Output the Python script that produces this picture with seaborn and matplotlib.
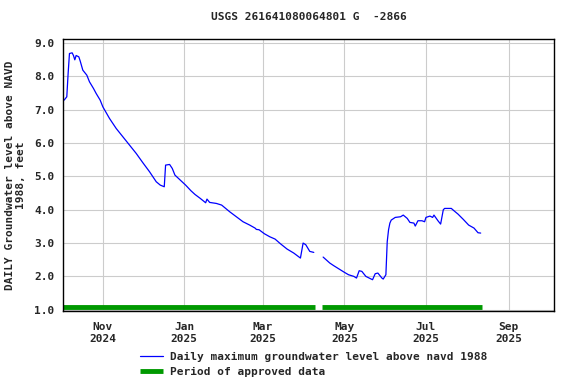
import pandas as pd
import matplotlib
matplotlib.use("Agg")
import matplotlib.pyplot as plt
import matplotlib.dates as mdates
from matplotlib.lines import Line2D
import seaborn as sns

# Daily maximum groundwater level (ft above NAVD 1988)
dates_a = ["2024-10-03", "2024-10-05", "2024-10-06", "2024-10-07", "2024-10-09",
           "2024-10-10", "2024-10-11", "2024-10-12", "2024-10-14", "2024-10-15",
           "2024-10-17", "2024-10-20", "2024-10-22", "2024-10-25", "2024-10-27",
           "2024-10-30", "2024-11-01", "2024-11-06", "2024-11-11", "2024-11-16",
           "2024-11-21", "2024-11-26", "2024-12-01", "2024-12-06", "2024-12-11",
           "2024-12-14", "2024-12-17", "2024-12-18", "2024-12-21", "2024-12-23",
           "2024-12-25", "2024-12-29", "2025-01-02", "2025-01-06", "2025-01-09",
           "2025-01-13", "2025-01-17", "2025-01-18", "2025-01-20", "2025-01-25",
           "2025-01-29", "2025-02-01", "2025-02-04", "2025-02-09", "2025-02-14",
           "2025-02-19", "2025-02-23", "2025-02-24", "2025-02-26", "2025-03-02",
           "2025-03-06", "2025-03-10", "2025-03-14", "2025-03-19", "2025-03-24",
           "2025-03-29", "2025-03-31", "2025-04-02", "2025-04-05", "2025-04-08"]
levels_a = [7.29, 7.39, 8.09, 8.69, 8.71, 8.63, 8.50, 8.63, 8.59, 8.47,
            8.19, 8.04, 7.84, 7.64, 7.49, 7.29, 7.09, 6.74, 6.44, 6.19,
            5.94, 5.69, 5.41, 5.14, 4.84, 4.74, 4.69, 5.34, 5.36, 5.24,
            5.04, 4.89, 4.74, 4.57, 4.46, 4.34, 4.21, 4.32, 4.22, 4.19,
            4.14, 4.04, 3.94, 3.79, 3.64, 3.54, 3.45, 3.41, 3.40, 3.28,
            3.19, 3.12, 2.98, 2.82, 2.70, 2.55, 3.00, 2.95, 2.75, 2.72]

dates_b = ["2025-04-15", "2025-04-20", "2025-04-23", "2025-04-27", "2025-05-01",
           "2025-05-04", "2025-05-08", "2025-05-10", "2025-05-12", "2025-05-14",
           "2025-05-17", "2025-05-22", "2025-05-24", "2025-05-26", "2025-05-29",
           "2025-05-30", "2025-06-01", "2025-06-02", "2025-06-03", "2025-06-04",
           "2025-06-05", "2025-06-08", "2025-06-12", "2025-06-14", "2025-06-17",
           "2025-06-19", "2025-06-22", "2025-06-23", "2025-06-25", "2025-06-28",
           "2025-06-30", "2025-07-01", "2025-07-04", "2025-07-06", "2025-07-07",
           "2025-07-10", "2025-07-12", "2025-07-14", "2025-07-15", "2025-07-20",
           "2025-07-22", "2025-07-25", "2025-07-29", "2025-08-02", "2025-08-06",
           "2025-08-09", "2025-08-11"]
levels_b = [2.58, 2.40, 2.32, 2.22, 2.12, 2.05, 2.00, 1.95, 2.17, 2.15,
            2.00, 1.90, 2.08, 2.10, 1.95, 1.92, 2.05, 3.04, 3.40, 3.60,
            3.69, 3.77, 3.79, 3.84, 3.74, 3.62, 3.60, 3.51, 3.67, 3.67,
            3.64, 3.77, 3.81, 3.77, 3.84, 3.67, 3.57, 4.00, 4.04, 4.04,
            3.97, 3.87, 3.71, 3.54, 3.45, 3.31, 3.30]

# Approved-data periods (start, end)
approved_periods = [("2024-10-02", "2025-04-09"), ("2025-04-14", "2025-08-12")]
approved_level = 1.07

xtick_dates = ["2024-11-01", "2025-01-01", "2025-03-01", "2025-05-01", "2025-07-01", "2025-09-01"]
ytick_values = [1.0, 2.0, 3.0, 4.0, 5.0, 6.0, 7.0, 8.0, 9.0]

df = pd.concat([
    pd.DataFrame({"date": pd.to_datetime(dates_a), "level": levels_a, "segment": 0}),
    pd.DataFrame({"date": pd.to_datetime(dates_b), "level": levels_b, "segment": 1}),
])
rows = []
for i, (s, e) in enumerate(approved_periods):
    rows.append({"date": pd.Timestamp(s), "level": approved_level, "period": i})
    rows.append({"date": pd.Timestamp(e), "level": approved_level, "period": i})
df_appr = pd.DataFrame(rows)

sns.set_style("whitegrid", {"grid.color": "#cccccc", "axes.edgecolor": "black"})
plt.rcParams["font.family"] = ["DejaVu Sans Mono"]
plt.rcParams["font.weight"] = "bold"

fig = plt.figure(figsize=(5.76, 3.84), dpi=100)
ax = fig.add_axes([0.109, 0.190, 0.853, 0.708])

sns.lineplot(data=df_appr, x="date", y="level", units="period", estimator=None,
             color="#009900", linewidth=3.5, solid_capstyle="butt", legend=False, ax=ax)
sns.lineplot(data=df, x="date", y="level", units="segment", estimator=None,
             color="blue", linewidth=0.9, legend=False, ax=ax)

ax.set_xlim(pd.Timestamp("2024-10-02"), pd.Timestamp("2025-10-05"))
ax.set_ylim(0.96, 9.12)
ax.set_yticks(ytick_values)
ax.yaxis.set_major_formatter(matplotlib.ticker.FormatStrFormatter("%.1f"))
ax.set_xticks(pd.to_datetime(xtick_dates))
ax.xaxis.set_major_formatter(mdates.DateFormatter("%b\n%Y"))
ax.tick_params(axis="x", length=0, labelsize=8, pad=8)
ax.tick_params(axis="y", length=0, labelsize=8, pad=6)
for lab in ax.get_xticklabels() + ax.get_yticklabels():
    lab.set_fontweight("bold")
for sp in ax.spines.values():
    sp.set_linewidth(1.0)

ax.set_xlabel("")
ax.set_ylabel("DAILY Groundwater level above NAVD\n1988, feet", fontsize=8,
              fontweight="bold", linespacing=1.1, labelpad=6)
ax.set_title("USGS 261641080064801 G  -2866", fontsize=8, fontweight="bold", pad=14)

handles = [Line2D([], [], color="blue", linewidth=0.9),
           Line2D([], [], color="#009900", linewidth=3.5, solid_capstyle="butt")]
fig.legend(handles, ["Daily maximum groundwater level above navd 1988",
                     "Period of approved data"],
           loc="upper left", bbox_to_anchor=(0.235, 0.095), frameon=False,
           handlelength=2.1, handletextpad=0.6, borderaxespad=0,
           labelspacing=0.45, prop={"weight": "bold", "size": 8})

fig.savefig("out.png", dpi=100)
